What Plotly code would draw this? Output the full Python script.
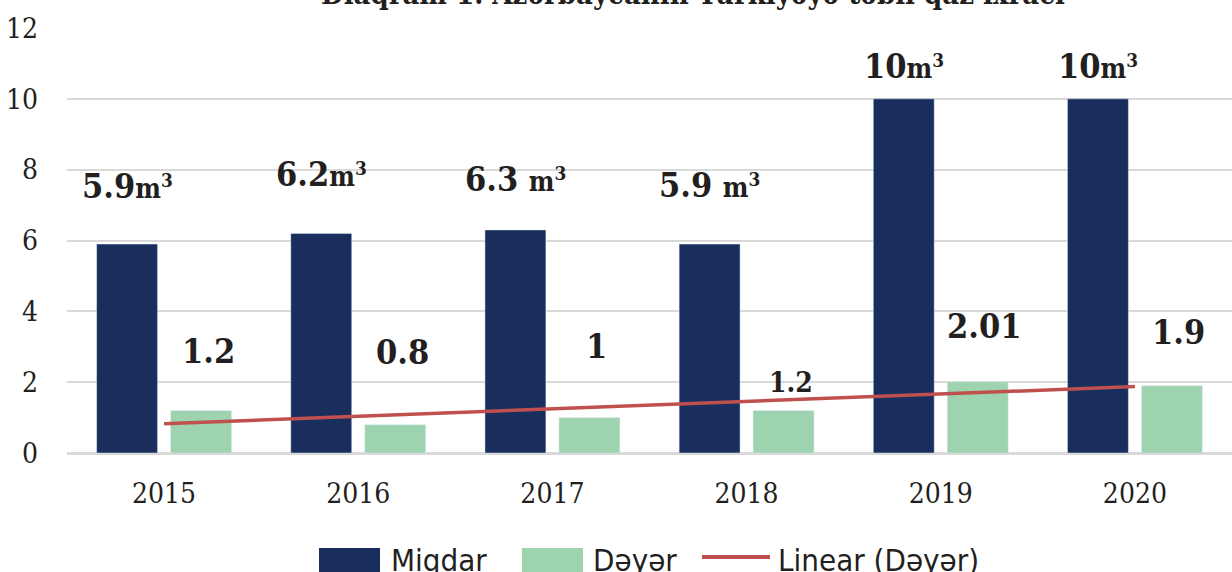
import numpy as np
import plotly.graph_objects as go

# ---- data ----
years = ["2015", "2016", "2017", "2018", "2019", "2020"]
miqdar = [5.9, 6.2, 6.3, 5.9, 10, 10]
deyer = [1.2, 0.8, 1.0, 1.2, 2.01, 1.9]
y_ticks = [0, 2, 4, 6, 8, 10, 12]
title_text = "Diaqram 1. Azərbaycanın Türkiyəyə təbii qaz ixracı"
legend_names = ["Miqdar", "Dəyər", "Linear (Dəyər)"]

# ---- styles ----
C_MIQ = "#1A2E5E"
C_DEY = "#9DD3AF"
C_LIN = "#C0504D"
C_TXT = "#231F20"
SERIF = "DejaVu Serif Condensed, Liberation Serif, serif"
NARROW = "Liberation Sans Narrow, DejaVu Sans Condensed, sans-serif"

W, H = 1232, 572
ML, MR, MT, MB = 67, 0, 28, 119
PW, PH = W - ML - MR, H - MT - MB

def px_x(p):
    return (p - ML) / PW

def px_y(p):
    return (H - MB - p) / PH

# linear trend on Dəyər
xi = np.arange(1, len(deyer) + 1)
k, b = np.polyfit(xi, np.array(deyer), 1)
trend = k * xi + b

fig = go.Figure()
fig.add_trace(go.Bar(x=years, y=miqdar, name=legend_names[0], marker_color=C_MIQ,
                     showlegend=False))
fig.add_trace(go.Bar(x=years, y=deyer, name=legend_names[1], marker_color=C_DEY,
                     showlegend=False))
fig.add_trace(go.Scatter(x=years, y=trend, name=legend_names[2], mode="lines",
                         line=dict(color=C_LIN, width=3.5), showlegend=False))

# ---- data labels (x given as category index) ----
miq_shift = [58, 59, 51, 59, 33, 33]
miq_space = ["", "", " ", " ", "", ""]
dey_shift = [60, 73, 72, 28, 56, 54]
dey_size = [34, 34, 34, 28, 34, 34]
ann = []
for i, v in enumerate(miqdar):
    ann.append(dict(x=i, y=v, xref="x", yref="y", xshift=-37, yshift=miq_shift[i],
                    yanchor="middle", xanchor="center", showarrow=False,
                    text=f"<b>{v:g}{miq_space[i]}<span style='font-size:27px'>m<sup>3</sup></span></b>",
                    font=dict(family=SERIF, size=34, color=C_TXT)))
for i, v in enumerate(deyer):
    ann.append(dict(x=i, y=v, xref="x", yref="y", xshift=44, yshift=dey_shift[i],
                    yanchor="middle", xanchor="center", showarrow=False,
                    text=f"<b>{v:g}</b>",
                    font=dict(family=SERIF, size=dey_size[i], color=C_TXT)))

# ---- title ----
ann.append(dict(x=px_x(693), y=px_y(-6), xref="paper", yref="paper", showarrow=False,
                xanchor="center", yanchor="middle", text=f"<b>{title_text}</b>",
                font=dict(family=SERIF, size=29, color=C_TXT)))

# ---- custom legend ----
shapes = []
leg_cy = 560
sw = [(319, 380, C_MIQ), (522, 583, C_DEY)]
for x0, x1, c in sw:
    shapes.append(dict(type="rect", xref="paper", yref="paper",
                       x0=px_x(x0), x1=px_x(x1), y0=px_y(575), y1=px_y(548),
                       fillcolor=c, line=dict(width=0)))
shapes.append(dict(type="line", xref="paper", yref="paper",
                   x0=px_x(702), x1=px_x(770), y0=px_y(leg_cy - 3), y1=px_y(leg_cy - 3),
                   line=dict(color=C_LIN, width=4)))
for xl, name in zip([389, 591, 776], legend_names):
    ann.append(dict(x=px_x(xl), y=px_y(leg_cy), xref="paper", yref="paper", showarrow=False,
                    xanchor="left", yanchor="middle", text=name,
                    font=dict(family=NARROW, size=31, color=C_TXT)))

fig.update_layout(
    width=W, height=H,
    margin=dict(l=ML, r=MR, t=MT, b=MB, pad=0),
    paper_bgcolor="white", plot_bgcolor="white",
    barmode="group", bargap=0.238, bargroupgap=0.176,
    annotations=ann, shapes=shapes, showlegend=False,
    font=dict(family=SERIF, color=C_TXT),
)
fig.update_xaxes(type="category", range=[-0.5, len(years) - 0.5], showgrid=False,
                 showline=False, zeroline=False,
                 ticks="", tickfont=dict(family=SERIF, size=28, color=C_TXT),
                 ticklabelstandoff=21)
fig.update_yaxes(range=[0, 12], tickvals=y_ticks, showgrid=True, gridcolor="#D9D9D9",
                 gridwidth=2, zeroline=True, zerolinecolor="#D9D9D9", zerolinewidth=3,
                 showline=False, ticks="", tickfont=dict(family=SERIF, size=28, color=C_TXT),
                 ticklabelstandoff=28)

fig.write_html("out.html", config={"displayModeBar": False},
               post_script="document.body.style.margin='0';")
